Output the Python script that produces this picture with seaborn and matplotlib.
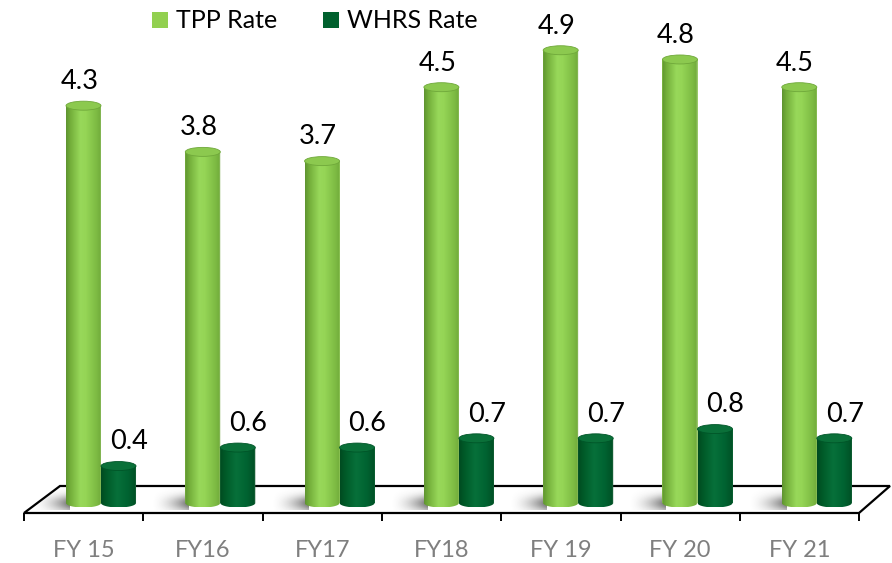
import numpy as np
import pandas as pd
import matplotlib
matplotlib.use("Agg")
import matplotlib.pyplot as plt
import seaborn as sns
from matplotlib.patches import Polygon, Ellipse, Rectangle
from matplotlib.path import Path
from matplotlib.colors import LinearSegmentedColormap

# ---- data -------------------------------------------------------------
years = ["FY 15", "FY16", "FY17", "FY18", "FY 19", "FY 20", "FY 21"]
tpp_rate = [4.3, 3.8, 3.7, 4.5, 4.9, 4.8, 4.5]
whrs_rate = [0.4, 0.6, 0.6, 0.7, 0.7, 0.8, 0.7]
series = ["TPP Rate", "WHRS Rate"]
colors = ["#92D050", "#00612E"]

df = pd.DataFrame({
    "Year": years * 2,
    "Rate": tpp_rate + whrs_rate,
    "Series": [series[0]] * len(years) + [series[1]] * len(years),
})

# ---- figure / coordinate set-up --------------------------------------
sns.set_style("white")
plt.rcParams["font.family"] = ["Lato", "DejaVu Sans"]

W, H = 892, 563
fig = plt.figure(figsize=(W / 100, H / 100), dpi=100)
ax = fig.add_axes([0, 0, 1, 1])

X0, DX = 101.0, 119.3   # pixel x of first bar pair centre, pixel pitch per category
Y0, DY = 503.0, 92.4    # pixel y (from top) of zero, pixels per unit


def pix(px, py):
    """pixel position (from top-left) -> data coordinates"""
    return (px - X0) / DX, (Y0 - py) / DY


sns.barplot(data=df, x="Year", y="Rate", hue="Series", palette=colors,
            width=0.587, saturation=1, legend=False, ax=ax, zorder=3,
            linewidth=0)

# ---- floor --------------------------------------------------------------
floor_px = [(24, 513), (60, 486), (890, 486), (859, 513)]
floor = Polygon([pix(*p) for p in floor_px], closed=True, facecolor="white",
                edgecolor="black", linewidth=1.6, zorder=1, joinstyle="miter")
ax.add_patch(floor)

# soft shadow on the floor just left of each bar pair
ny, nx = 40, 80
u = np.linspace(0, 1, nx)[None, :]
v = np.linspace(0, 1, ny)[:, None]
shade = (u ** 1.8) * np.exp(-((v - 0.70) / 0.36) ** 2)
shadow_img = np.zeros((ny, nx, 4))
shadow_img[..., :3] = 0.25
shadow_img[..., 3] = 0.75 * shade
sh_top = pix(0, 488)[1]
sh_bot = pix(0, 510)[1]
front_y = pix(0, 513)[1]
bar_w_half = 0.587 / 2
for i in range(len(years)):
    left = i - bar_w_half
    im = ax.imshow(shadow_img, extent=[left - 34 / DX, left + 4 / DX, sh_bot, sh_top],
                   origin="upper", aspect="auto", zorder=2, interpolation="bicubic")
    im.set_clip_path(floor)

# tick marks along the front edge of the floor
label_off = -0.145
for k in range(len(years) + 1):
    xt = label_off - 0.5 + k
    ax.plot([xt, xt], [front_y, pix(0, 521)[1]], color="black", lw=1.4,
            zorder=2, solid_capstyle="butt")

# ---- cylinder shading for the seaborn bars --------------------------
tpp_cmap = LinearSegmentedColormap.from_list("tpp", [
    (0.00, "#5E9330"), (0.12, "#73AE3A"), (0.40, "#98D85A"),
    (0.55, "#95D556"), (0.85, "#7DBB43"), (0.95, "#73AE3C"), (1.00, "#B5CF9E")])
whrs_cmap = LinearSegmentedColormap.from_list("whrs", [
    (0.00, "#004A20"), (0.15, "#005A28"), (0.45, "#07703A"),
    (0.75, "#006331"), (0.95, "#005226"), (1.00, "#4E7F5E")])
top_colors = ["#8CC94F", "#0A7039"]
top_edges = ["#6FA83A", "#005528"]
cmaps = [tpp_cmap, whrs_cmap]

eh = 4.5 / DY          # half height of the elliptical caps
grad = np.linspace(0, 1, 256)[None, :]
for c_idx, cont in enumerate(ax.containers):
    for bar in cont:
        x0, w, h = bar.get_x(), bar.get_width(), bar.get_height()
        cx = x0 + w / 2
        t = np.linspace(np.pi, 2 * np.pi, 60)
        arc = np.column_stack([cx + w / 2 * np.cos(t), eh * np.sin(t)])
        verts = np.vstack([[x0, h], [x0, 0], arc[1:-1], [x0 + w, 0], [x0 + w, h], [x0, h]])
        codes = [Path.MOVETO] + [Path.LINETO] * (len(verts) - 2) + [Path.CLOSEPOLY]
        body = Path(verts, codes)
        im = ax.imshow(grad, cmap=cmaps[c_idx], extent=[x0, x0 + w, -eh, h],
                       aspect="auto", zorder=4, interpolation="bilinear")
        im.set_clip_path(body, transform=ax.transData)
        ax.add_patch(Ellipse((cx, h), w, 2 * eh, facecolor=top_colors[c_idx],
                             edgecolor=top_edges[c_idx], linewidth=0.6, zorder=5))

# ---- value labels -----------------------------------------------------
for c_idx, cont in enumerate(ax.containers):
    dx = -3.0 if c_idx == 0 else 7.5
    for bar in cont:
        val = bar.get_height()
        ax.annotate(f"{val:.1f}", xy=(bar.get_x() + bar.get_width() / 2, val),
                    xytext=(dx, 12), textcoords="offset points",
                    ha="center", va="baseline", fontsize=19.5, color="black",
                    zorder=6)

# ---- category labels --------------------------------------------------
base_y = pix(0, 557)[1]
for i, lab in enumerate(years):
    ax.text(i + label_off, base_y, lab, ha="center", va="baseline",
            fontsize=17, color="#7F7F7F")

# ---- legend -----------------------------------------------------------
def fig_xy(px, py):
    return px / W, 1 - py / H

legend_items = [(152, 176), (323, 347)]
for (sq_x, tx), name, col in zip(legend_items, series, colors):
    fig.patches.append(Rectangle(fig_xy(sq_x, 28), 16 / W, 16 / H,
                                 transform=fig.transFigure, facecolor=col,
                                 edgecolor="none"))
    fig.text(*fig_xy(tx, 28), name, ha="left", va="baseline", fontsize=18,
             color="black")

ax.set_xlim((0 - X0) / DX, (W - X0) / DX)
ax.set_ylim((Y0 - H) / DY, Y0 / DY)
ax.axis("off")

fig.savefig("out.png", dpi=100)
